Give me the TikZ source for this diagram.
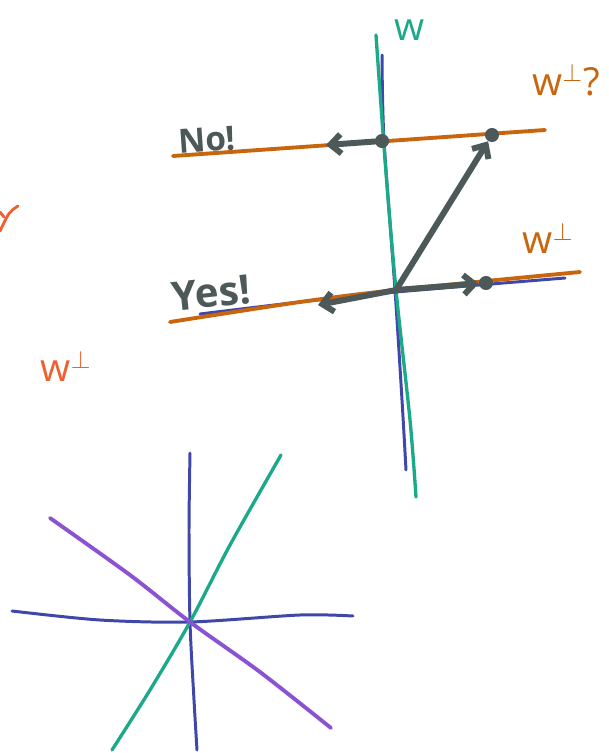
\documentclass[tikz,border=0pt]{standalone}
\usepackage{fontspec}
\setsansfont{Open Sans}
\usetikzlibrary{arrows.meta}
\definecolor{wteal}{HTML}{1BA98A}
\definecolor{windigo}{HTML}{3F48A8}
\definecolor{perporange}{HTML}{C9650C}
\definecolor{perpred}{HTML}{F05F30}
\definecolor{inkgray}{HTML}{4D5858}
\definecolor{linepurple}{HTML}{8B52D2}
\begin{document}
\begin{tikzpicture}[x=0.02cm, y=-0.02cm, line cap=round, line join=round,
  every node/.style={font=\sffamily},
  wline/.style={wteal, line width=1.9pt},
  bline/.style={windigo, line width=1.7pt},
  oline/.style={perporange, line width=2.2pt},
  pline/.style={linepurple, line width=2.2pt},
  vecarrow/.style={inkgray, line width=3.4pt, -{Straight Barb[length=6pt,width=11pt,line width=3.4pt]}},
  dotnode/.style={circle, fill=inkgray, inner sep=0pt, minimum size=8pt},
  lbl/.style={inner sep=1pt, font=\sffamily\fontsize{22}{24}\selectfont},
  saylbl/.style={inner sep=1pt, inkgray, font=\sffamily\bfseries\fontsize{19}{20}\selectfont}]
\useasboundingbox (0,0) rectangle (608,753);
% upper picture: w and its candidate complements
\draw[bline] plot[smooth] coordinates {(382,55) (384,140) (395,290) (402,400) (406,470)};
\draw[wline] plot[smooth] coordinates {(376,35) (385,160) (396,290) (410,420) (416,497)};
\node[lbl, wteal] (wlab) at (410,30) {w};
\draw[oline] (173,156) -- (545,130);
\draw[bline] plot[smooth] coordinates {(200,314) (300,302) (396,292) (565,278)};
\draw[oline] plot[smooth] coordinates {(170,322) (300,302) (396,290) (580,272)};
\node[lbl, perporange] (wperpq) at (566,80) {w$^{\perp}$?};
\node[lbl, perporange] (wperp) at (548,238) {w$^{\perp}$};
\node[saylbl, rotate=4] (nolab) at (207,140) {No!};
\node[saylbl, font=\sffamily\bfseries\fontsize{23}{25}\selectfont, rotate=6] (yeslab) at (211,293) {Yes!};
% vectors
\node[dotnode] (shift) at (382,141) {};
\node[dotnode] (tip) at (492,135) {};
\node[dotnode] (side) at (486,283) {};
\coordinate (orig) at (396,290);
\coordinate (noend) at (326,145);
\coordinate (yesend) at (318,305);
\draw[vecarrow] (shift) -- (noend);
\draw[vecarrow] (orig) -- (tip);
\draw[vecarrow] (orig) -- (yesend);
\draw[vecarrow] (orig) -- (side);
% left margin
\draw[perpred, line width=1.6pt] (18,206) .. controls (9,212) .. (0,231);
\draw[perpred, line width=1.6pt] (0,212) -- (4,217);
\node[lbl, perpred] (wperpl) at (66,366) {w$^{\perp}$};
% lower picture: lines through one point
\coordinate (ctr) at (190,622);
\draw[bline] plot[smooth] coordinates {(190,453) (189,530) (ctr) (194,700) (197,750)};
\draw[bline] plot[smooth] coordinates {(12,611) (100,620) (ctr) (300,615) (353,616)};
\draw[wline] plot[smooth] coordinates {(281,455) (230,545) (ctr) (150,690) (112,750)};
\draw[pline] plot[smooth] coordinates {(50,518) (130,575) (ctr) (260,672) (331,728)};
\end{tikzpicture}
\end{document}
